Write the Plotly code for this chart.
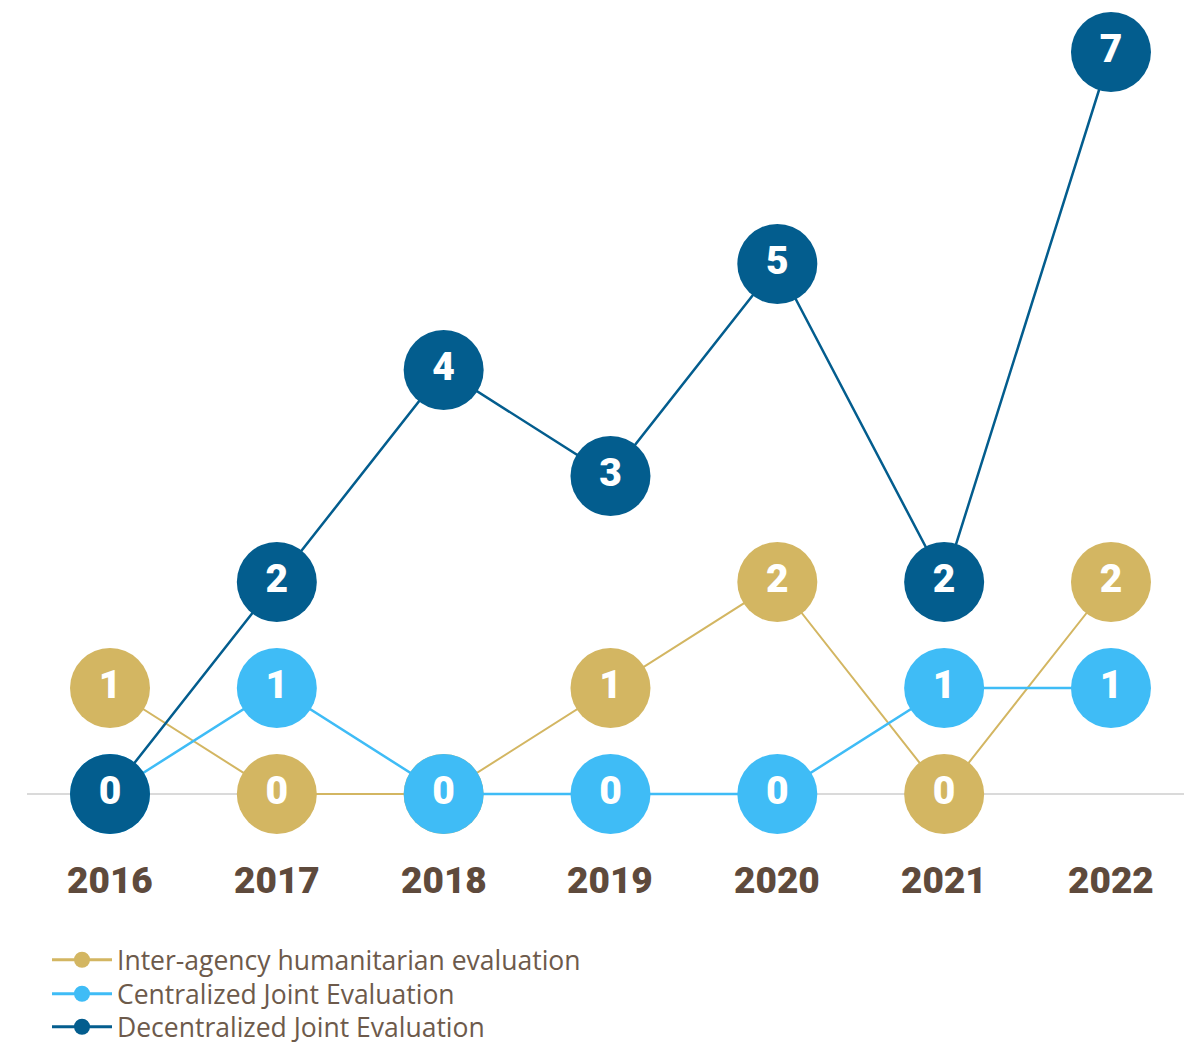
import plotly.graph_objects as go

# data
years = [2016, 2017, 2018, 2019, 2020, 2021, 2022]
inter_agency = [1, 0, 0, 1, 2, 0, 2]
centralized = [0, 1, 0, 0, 0, 1, 1]
decentralized = [0, 2, 4, 3, 5, 2, 7]

series = [
    ("Inter-agency humanitarian evaluation", inter_agency, "#D3B662", 2),
    ("Centralized Joint Evaluation", centralized, "#3FBCF6", 2.5),
    ("Decentralized Joint Evaluation", decentralized, "#035D8E", 2.5),
]

num_font = "Roboto, sans-serif"

# the page puts the figure 8px in from the top-left corner
W, H = 1184, 1037
x0_px, px_per_year = 102, 166.83
y0_px, px_per_unit = 786, 106

fig = go.Figure()

# the big circles with their value inside
for name, vals, color, lw in series:
    fig.add_trace(
        go.Scatter(
            x=years,
            y=vals,
            mode="lines+markers+text",
            text=[str(v) for v in vals],
            textposition="middle center",
            textfont=dict(family=num_font, size=39, color="white", weight=900),
            line=dict(color=color, width=lw),
            marker=dict(size=80, color=color),
            cliponaxis=False,
            showlegend=False,
            hoverinfo="skip",
        )
    )

# small legend entries, one legend each so the rows sit close together
legend_rows = [960, 994, 1027]
for i, (name, vals, color, lw) in enumerate(series):
    lg = "legend" if i == 0 else f"legend{i + 1}"
    fig.add_trace(
        go.Scatter(
            x=[None],
            y=[None],
            mode="lines+markers",
            name=name,
            legend=lg,
            line=dict(color=color, width=3),
            marker=dict(size=16, color=color),
        )
    )
    fig.update_layout(
        {
            lg: dict(
                x=39 / W,
                y=1 - (legend_rows[i] - 8) / H,
                xanchor="left",
                yanchor="middle",
                itemwidth=60,
                font=dict(family="Open Sans, sans-serif", size=26.5, color="#6D5A4B"),
                bgcolor="rgba(0,0,0,0)",
            )
        }
    )

# year labels under the baseline
for yr in years:
    fig.add_annotation(
        x=yr,
        y=0,
        yshift=-86,
        text=str(yr),
        showarrow=False,
        font=dict(family=num_font, size=37, color="#5E4A3C", weight=900),
    )

# grey baseline
fig.add_shape(
    type="line",
    xref="paper",
    yref="y",
    x0=19 / W,
    x1=1,
    y0=0,
    y1=0,
    line=dict(color="#DADADA", width=2),
    layer="below",
)

fig.update_layout(
    width=W,
    height=H,
    margin=dict(l=0, r=0, t=0, b=0, autoexpand=False),
    paper_bgcolor="white",
    plot_bgcolor="white",
    xaxis=dict(
        range=[2016 - x0_px / px_per_year, 2016 + (W - x0_px) / px_per_year],
        visible=False,
        fixedrange=True,
    ),
    yaxis=dict(
        range=[-(H - y0_px) / px_per_unit, y0_px / px_per_unit],
        visible=False,
        fixedrange=True,
    ),
    showlegend=True,
)

fig.write_html("out.html")
